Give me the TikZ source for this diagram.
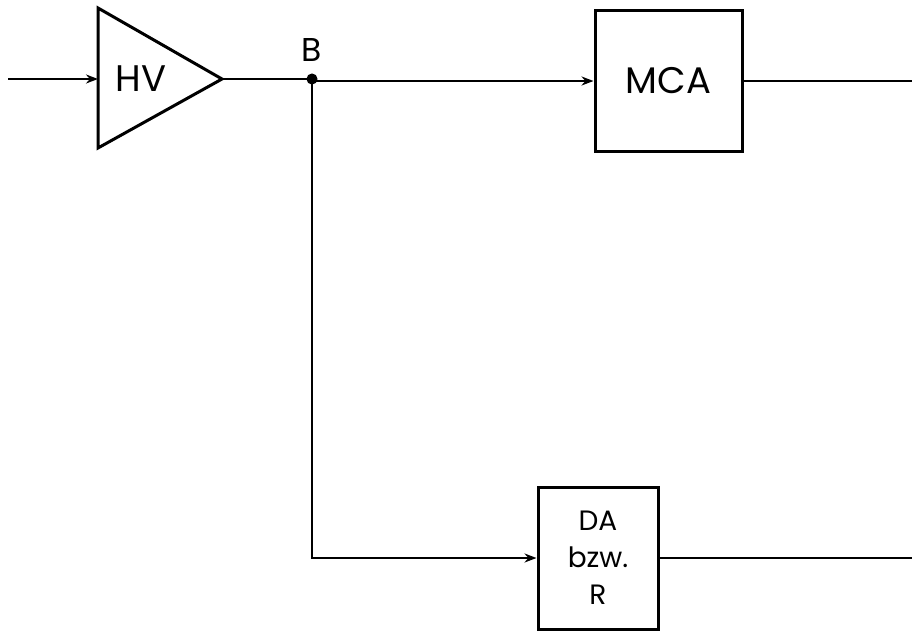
\documentclass[tikz,border=0pt]{standalone}
\usepackage{fontspec}
\setmainfont{Poppins}
\usetikzlibrary{arrows.meta}
\begin{document}
\begin{tikzpicture}[x=1pt,y=-1pt,
  wire/.style={line width=2.8pt},
  arr/.style={wire,-{Stealth[length=12pt,width=9pt]}},
  blk/.style={draw,line width=3pt,inner sep=0pt,align=center},
  big/.style={font=\fontsize{37}{40}\selectfont},
  small/.style={font=\fontsize{28}{37}\selectfont}]
\useasboundingbox (0,0) rectangle (912,632);
% amplifier triangle
\coordinate (in) at (8,79);
\coordinate (tl) at (98,8);
\coordinate (bl) at (98,148);
\coordinate (tip) at (222,79);
\coordinate (tin) at (98,79);
\draw[line width=3pt,line join=miter] (tl) -- (tip) -- (bl) -- cycle;
\node[big] (hv) at (141,79) {HV};
\draw[arr] (in) -- (tin);
% branch point B
\node[circle,fill,draw,line width=1pt,inner sep=0pt,minimum size=10pt] (B) at (312,79) {};
\node[font=\fontsize{33}{36}\selectfont] (Blbl) at (312,50) {B};
% boxes
\node[blk,big,minimum width=147pt,minimum height=141pt] (mca) at (668.5,81) {MCA};
\node[blk,small,minimum width=120pt,minimum height=142pt] (da) at (598,558) {DA\\bzw.\\R};
\coordinate (corner) at (B |- da.west);
\coordinate (mcaend) at (912,81);
\coordinate (daend) at (912,558);
% connectors
\draw[wire] (tip) -- (B);
\draw[arr] (B) |- (mca.west);
\draw[arr] (B) -- (corner) -- (da.west);
\draw[wire] (mca.east) -- (mcaend);
\draw[wire] (da.east) -- (daend);
\end{tikzpicture}
\end{document}
